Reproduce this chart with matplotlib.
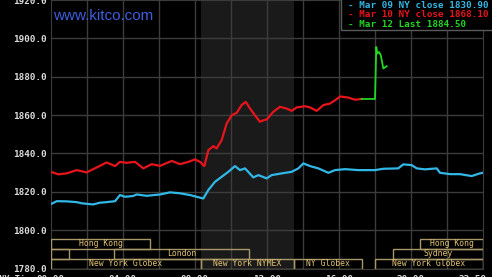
import matplotlib
matplotlib.use("Agg")
import matplotlib.pyplot as plt
from matplotlib.patches import Rectangle
from matplotlib.transforms import ScaledTranslation

# hours (NY time) / price
mar09_hours = [0.0, 0.32, 0.87, 1.43, 1.71, 2.33, 2.72, 3.09, 3.56, 3.83, 4.11, 4.56, 4.76,
               5.32, 6.06, 6.61, 7.17, 7.72, 8.09, 8.46, 8.74, 9.11, 9.48, 9.85, 10.22,
               10.5, 10.78, 11.24, 11.52, 11.98, 12.26, 12.82, 13.37, 13.74, 14.02, 14.39,
               14.85, 15.41, 15.78, 16.33, 17.07, 17.63, 18.0, 18.46, 19.29, 19.57, 20.04,
               20.32, 20.78, 21.43, 21.61, 22.17, 22.72, 23.37, 23.83, 24.0]
mar09_price = [1813.6, 1815.1, 1815.0, 1814.6, 1814.0, 1813.4, 1814.3, 1814.6, 1815.1, 1818.3,
               1817.4, 1817.8, 1818.6, 1817.9, 1818.6, 1819.7, 1819.2, 1818.3, 1817.4, 1816.5,
               1820.9, 1825.2, 1827.8, 1830.4, 1833.4, 1831.3, 1832.2, 1827.5, 1828.7, 1827.0,
               1828.7, 1829.6, 1830.4, 1832.2, 1834.8, 1833.4, 1832.2, 1829.9, 1831.3, 1831.8,
               1831.3, 1831.3, 1831.3, 1832.0, 1832.2, 1834.3, 1833.9, 1832.2, 1831.7, 1832.2,
               1829.9, 1829.2, 1829.2, 1828.2, 1829.6, 1829.9]

mar10_hours = [0.0, 0.41, 0.87, 1.43, 1.98, 2.54, 3.09, 3.56, 3.83, 4.2, 4.67, 5.13, 5.59,
               6.06, 6.71, 7.17, 7.63, 8.0, 8.28, 8.52, 8.74, 9.02, 9.2, 9.48, 9.76, 10.04,
               10.32, 10.59, 10.82, 11.06, 11.33, 11.61, 11.8, 11.98, 12.35, 12.72, 13.09,
               13.37, 13.65, 14.11, 14.39, 14.76, 15.13, 15.5, 15.78, 16.06, 16.52, 16.89, 17.26]
mar10_price = [1830.4, 1829.1, 1829.6, 1831.3, 1830.1, 1832.7, 1835.3, 1833.4, 1835.6, 1835.1,
               1835.6, 1832.2, 1834.4, 1833.5, 1836.1, 1834.4, 1835.6, 1836.9, 1835.6, 1833.4,
               1841.7, 1843.8, 1842.6, 1846.9, 1855.6, 1859.9, 1861.2, 1865.2, 1866.9, 1863.4,
               1859.9, 1856.5, 1857.3, 1857.7, 1861.7, 1864.3, 1863.4, 1862.2, 1864.0, 1864.6,
               1864.0, 1862.2, 1865.2, 1866.0, 1867.7, 1869.7, 1869.1, 1868.0, 1868.4]

mar12_hours = [17.26, 18.0, 18.04, 18.07, 18.13, 18.22, 18.32, 18.41, 18.46, 18.56, 18.65]
mar12_price = [1868.4, 1868.4, 1883.4, 1895.5, 1892.1, 1892.9, 1891.2, 1886.9, 1884.3, 1884.9, 1885.5]

legend_labels = ["- Mar 09 NY close 1830.90", "- Mar 10 NY close 1868.10", "- Mar 12 Last 1884.50"]
line_colors = ["#32b8e6", "#e8141c", "#22d622"]

# trading sessions: (row, start hour, end hour, name)
session_rows = [0, 0, 1, 1, 1, 2, 2, 2, 2]
session_start = [0.0, 20.5, 0.0, 3.5, 19.0, 0.0, 8.33, 13.5, 18.0]
session_end = [5.5, 24.0, 1.0, 11.0, 24.0, 8.33, 13.5, 17.25, 24.0]
session_names = ["Hong Kong", "Hong Kong", "", "London", "Sydney",
                 "New York Globex", "New York NYMEX", "NY Globex", "New York Globex"]

comex_open, comex_close = 8.33, 13.5

x_ticks = [0, 4, 8, 12, 16, 20, 24]
x_labels = ["00:00", "04:00", "08:00", "12:00", "16:00", "20:00", "23:59"]
y_ticks = [1780, 1800, 1820, 1840, 1860, 1880, 1900, 1920]

mono = "DejaVu Sans Mono"
gold = "#e2c274"

fig = plt.figure(figsize=(4.92, 2.77), dpi=100, facecolor="black")
ax = fig.add_axes([51 / 492, 8.5 / 277, 432 / 492, 268.5 / 277])
ax.set_facecolor("black")
ax.set_xlim(0, 24)
ax.set_ylim(1780, 1920)

ax.axvspan(comex_open, comex_close, color="#1a1a1a", zorder=0, lw=0)
for h in range(2, 24, 2):
    ax.axvline(h, color="#3c3c3c", lw=1, zorder=1)
for y in y_ticks[1:-1]:
    ax.axhline(y, color="#3c3c3c", lw=1, zorder=1)
for s in ax.spines.values():
    s.set_color("#3c3c3c")

ax.set_xticks(x_ticks)
ax.set_xticklabels(x_labels)
ax.set_yticks(y_ticks)
ax.set_yticklabels([f"{v:.1f}" for v in y_ticks])
ax.tick_params(length=0, colors="#dcdcdc", labelsize=6.7)
ax.tick_params(axis="y", pad=3)
ax.tick_params(axis="x", pad=5)
for lab in ax.get_xticklabels() + ax.get_yticklabels():
    lab.set_family(mono)
    lab.set_fontweight("bold")
last = ax.get_xticklabels()[-1]
last.set_horizontalalignment("right")
last.set_transform(last.get_transform() + ScaledTranslation(4 / 100, 0, fig.dpi_scale_trans))

# session boxes along the bottom
row_h = 5.2
for row, a, b, name in zip(session_rows, session_start, session_end, session_names):
    y0 = 1780 + (2 - row) * row_h
    ax.add_patch(Rectangle((a, y0), b - a, row_h, fill=False, ec="#a89868", lw=1, zorder=3))
    if name:
        ax.text((a + b) / 2, y0 + row_h / 2, name, color=gold, fontsize=5.9, family=mono,
                ha="center", va="center", zorder=4)

ax.plot(mar09_hours, mar09_price, color=line_colors[0], lw=1.6, zorder=5)
ax.plot(mar10_hours, mar10_price, color=line_colors[1], lw=1.6, zorder=5)
ax.plot(mar12_hours, mar12_price, color=line_colors[2], lw=1.3, zorder=6)

ax.text(53 / 492, 1 - 16 / 277, "www.kitco.com", transform=fig.transFigure, color="#3e5ede",
        fontsize=11, family="Liberation Sans", ha="left", va="center", zorder=7)

# legend box, top right
fig.patches.append(Rectangle((341 / 492, 1 - 30 / 277), 0.4, 0.2, transform=fig.transFigure,
                             fc="black", ec="#5a5a5a", lw=1, zorder=8))
for i, (lab, col) in enumerate(zip(legend_labels, line_colors)):
    fig.text(348 / 492, 1 - (5 + i * 9.7) / 277, lab, color=col, fontsize=6.7, family=mono,
             fontweight="bold", ha="left", va="center", zorder=9)

fig.text(-1 / 492, 1 - 279 / 277, "NY Time", color="#dcdcdc", fontsize=6.2, family=mono,
         fontweight="bold", ha="left", va="center")

fig.savefig("out.png", dpi=100, facecolor="black")
